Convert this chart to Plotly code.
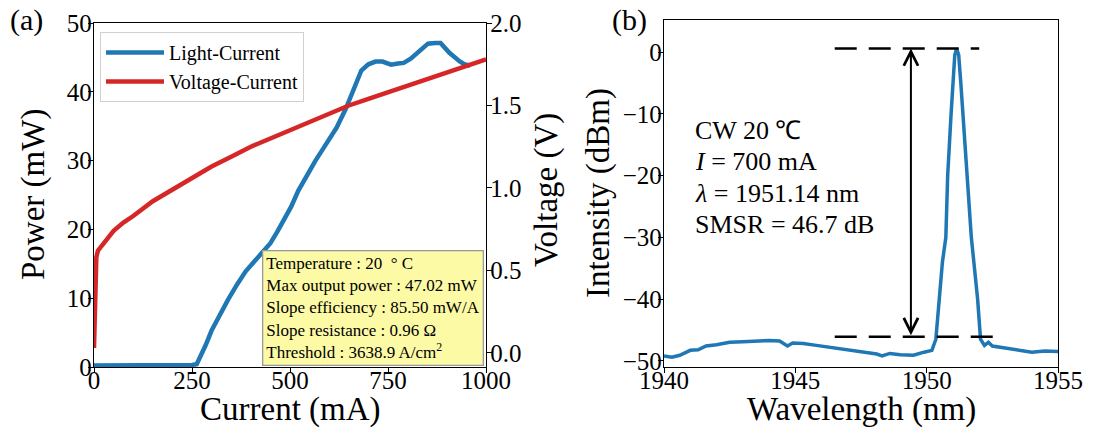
import plotly.graph_objects as go

# ---------------- data: panel (a) ----------------
current_lc = [0, 50, 100, 150, 200, 250, 262, 272, 285, 300, 320, 342, 365, 387, 410, 431,
              450, 467, 485, 503, 521, 547, 565, 583, 600, 619, 642, 655, 670, 682, 700,
              718, 736, 758, 775, 790, 808, 830, 852, 870, 884, 906, 920, 933, 945, 960]
power_mw = [0.2, 0.2, 0.2, 0.2, 0.2, 0.3, 0.4, 1.5, 3.2, 5.3, 7.6, 9.8, 12.0, 13.9, 15.4, 16.8,
            18.0, 19.6, 21.3, 23.3, 25.6, 28.4, 30.0, 31.6, 33.0, 34.8, 37.5, 39.4, 41.6, 43.1, 44.0,
            44.4, 44.4, 43.95, 44.1, 44.2, 44.8, 46.0, 47.0, 47.1, 47.1, 45.7, 45.0, 44.4, 44.0, 43.8]

current_vc = [0, 3, 6, 10, 20, 35, 50, 75, 100, 150, 200, 250, 300, 350, 400, 450, 500,
              550, 600, 650, 700, 750, 800, 850, 900, 950, 1000]
voltage_v = [0.03, 0.35, 0.58, 0.62, 0.65, 0.70, 0.74, 0.79, 0.83, 0.92, 0.99, 1.06, 1.13,
             1.19, 1.25, 1.30, 1.35, 1.40, 1.45, 1.50, 1.54, 1.58, 1.62, 1.66, 1.70, 1.74, 1.78]

x_ticks_a = [0, 250, 500, 750, 1000]
y_ticks_power = [0, 10, 20, 30, 40, 50]
y_ticks_volt = [0.0, 0.5, 1.0, 1.5, 2.0]

info_lines = ["Temperature : 20\u00a0\u00a0° C",
              "Max output power : 47.02 mW",
              "Slope efficiency : 85.50 mW/A",
              "Slope resistance : 0.96 Ω",
              "Threshold : 3638.9 A/cm<sup>2</sup>"]

# ---------------- data: panel (b) ----------------
wavelength_nm = [1940.0, 1940.3, 1940.6, 1941.0, 1941.3, 1941.6, 1942.0, 1942.5, 1943.0, 1943.5,
                 1944.0, 1944.4, 1944.7, 1944.9, 1945.3, 1945.8, 1946.3, 1946.8, 1947.3, 1947.8,
                 1948.1, 1948.3, 1948.6, 1949.0, 1949.5, 1949.9, 1950.2, 1950.35, 1950.47, 1950.6,
                 1950.73, 1950.8, 1950.93, 1951.0, 1951.07, 1951.14, 1951.22, 1951.3, 1951.38,
                 1951.57, 1951.7, 1951.94, 1952.05, 1952.2, 1952.35, 1952.5, 1952.8, 1953.2,
                 1953.6, 1954.0, 1954.5, 1955.0]
intensity_dbm = [-49.2, -49.4, -49.1, -48.3, -48.2, -47.6, -47.4, -47.0, -46.9, -46.8,
                 -46.7, -46.8, -47.6, -47.1, -47.2, -47.5, -47.8, -48.1, -48.4, -48.7,
                 -48.9, -49.2, -48.8, -49.0, -49.1, -48.6, -48.3, -46.5, -40.0, -34.0,
                 -30.0, -20.0, -10.0, -4.0, -0.5, 0.6, -0.5, -5.0, -10.0,
                 -20.0, -30.0, -40.0, -46.5, -47.5, -47.0, -47.6, -47.8, -48.1,
                 -48.3, -48.6, -48.4, -48.5]

x_ticks_b = [1940, 1945, 1950, 1955]
y_ticks_b = [-50, -40, -30, -20, -10, 0]

peak_level = 0.6
smsr_db = 46.7
floor_level = peak_level - smsr_db
arrow_wl = 1949.4
dash_top_span = [1946.5, 1952.0]
dash_bottom_span = [1946.5, 1952.75]

spec_lines = ["CW 20 ℃", "<i>I</i> = 700 mA", "<i>λ</i> = 1951.14 nm", "SMSR = 46.7 dB"]

# ---------------- figure ----------------
W, H = 1093, 437
SERIF = "Liberation Serif"
BLUE = "#1f77b4"
RED = "#d62728"

fig = go.Figure()
fig.add_trace(go.Scatter(x=current_lc, y=power_mw, mode="lines", name="Light-Current",
                         line=dict(color=BLUE, width=4.5), xaxis="x", yaxis="y"))
fig.add_trace(go.Scatter(x=current_vc, y=voltage_v, mode="lines", name="Voltage-Current",
                         line=dict(color=RED, width=4.5), xaxis="x", yaxis="y2"))
fig.add_trace(go.Scatter(x=wavelength_nm, y=intensity_dbm, mode="lines", showlegend=False,
                         line=dict(color=BLUE, width=3.5), xaxis="x2", yaxis="y3"))

tickfont = dict(family=SERIF, size=25, color="black")
axis_common = dict(showgrid=False, zeroline=False, showline=True, linecolor="black", linewidth=1.3,
                   ticks="outside", ticklen=5, tickwidth=1.3, tickcolor="black", tickfont=tickfont,
                   automargin=False)

pa_x = [94 / W, 486 / W]
pa_y = [(H - 367) / H, (H - 23) / H]
pb_x = [664 / W, 1058 / W]
pb_y = [(H - 367) / H, (H - 20) / H]

fig.update_layout(
    width=W, height=H,
    margin=dict(l=0, r=0, t=0, b=0),
    paper_bgcolor="white", plot_bgcolor="white",
    font=dict(family=SERIF, color="black"),
    xaxis=dict(domain=pa_x, range=[0, 1000], tickvals=x_ticks_a, anchor="y", mirror=True,
               ticklabelstandoff=-14, **axis_common),
    yaxis=dict(domain=pa_y, range=[0, 50], tickvals=y_ticks_power, anchor="x",
               ticklabelstandoff=-9, **axis_common),
    yaxis2=dict(overlaying="y", side="right", range=[-0.085, 2.0], tickvals=y_ticks_volt,
                tickformat=".1f", anchor="x", ticklabelstandoff=-7, **axis_common),
    xaxis2=dict(domain=pb_x, range=[1940, 1955], tickvals=x_ticks_b, anchor="y3", mirror=True,
                ticklabelstandoff=-14, **axis_common),
    yaxis3=dict(domain=pb_y, range=[-51, 5.2], tickvals=y_ticks_b, anchor="x2", mirror=True,
                ticklabelstandoff=-9, **axis_common),
    legend=dict(x=100 / W, y=(H - 32) / H, xanchor="left", yanchor="top",
                bgcolor="rgba(255,255,255,0.8)", bordercolor="#d0d0d0", borderwidth=1,
                font=dict(family=SERIF, size=20, color="black"), tracegroupgap=0,
                itemwidth=58),
    showlegend=True,
)

ann = []
# panel labels
ann.append(dict(text="(a)", x=26 / W, y=(H - 20) / H, xref="paper", yref="paper",
                showarrow=False, font=dict(size=30), xanchor="center", yanchor="middle"))
ann.append(dict(text="(b)", x=629 / W, y=(H - 20) / H, xref="paper", yref="paper",
                showarrow=False, font=dict(size=30), xanchor="center", yanchor="middle"))
# axis titles
titles = [("Power (mW)", 33, 195, -90), ("Voltage (V)", 546, 190, -90),
          ("Current (mA)", 290, 409, 0), ("Intensity (dBm)", 598, 193, -90),
          ("Wavelength (nm)", 861, 409, 0)]
for txt, px, py, ang in titles:
    ann.append(dict(text=txt, x=px / W, y=(H - py) / H, xref="paper", yref="paper",
                    xanchor="center", yanchor="middle", textangle=ang, showarrow=False,
                    font=dict(size=33)))
# info box
ann.append(dict(text="<br>".join(info_lines), x=484 / W, y=(H - 366) / H, xref="paper", yref="paper",
                xanchor="right", yanchor="bottom", align="left", showarrow=False,
                font=dict(size=17), bgcolor="#fdfaa6", bordercolor="#9a9a9a", borderwidth=1.3,
                borderpad=3))
# spectrum text lines
for i, line in enumerate(spec_lines):
    ann.append(dict(text=line, x=693 / W, y=(H - 130 - 31.5 * i) / H, xref="paper", yref="paper",
                    xanchor="left", yanchor="middle", showarrow=False, font=dict(size=26)))
# double arrow
ann.append(dict(x=arrow_wl, y=peak_level, ax=arrow_wl, ay=floor_level, xref="x2", yref="y3",
                axref="x2", ayref="y3", showarrow=True, arrowhead=5, startarrowhead=5,
                arrowside="end+start", arrowwidth=2, arrowsize=1.4, startarrowsize=1.4,
                arrowcolor="black", text=""))
fig.update_layout(annotations=ann)

fig.add_shape(type="line", xref="x2", yref="y3", x0=dash_top_span[0], x1=dash_top_span[1],
              y0=peak_level, y1=peak_level, line=dict(color="black", width=2.5, dash="22px,12px"))
fig.add_shape(type="line", xref="x2", yref="y3", x0=dash_bottom_span[0], x1=dash_bottom_span[1],
              y0=floor_level, y1=floor_level, line=dict(color="black", width=2.5, dash="22px,12px"))

fig.write_html("out.html", config={"displayModeBar": False},
               post_script="document.body.style.margin='0';")
